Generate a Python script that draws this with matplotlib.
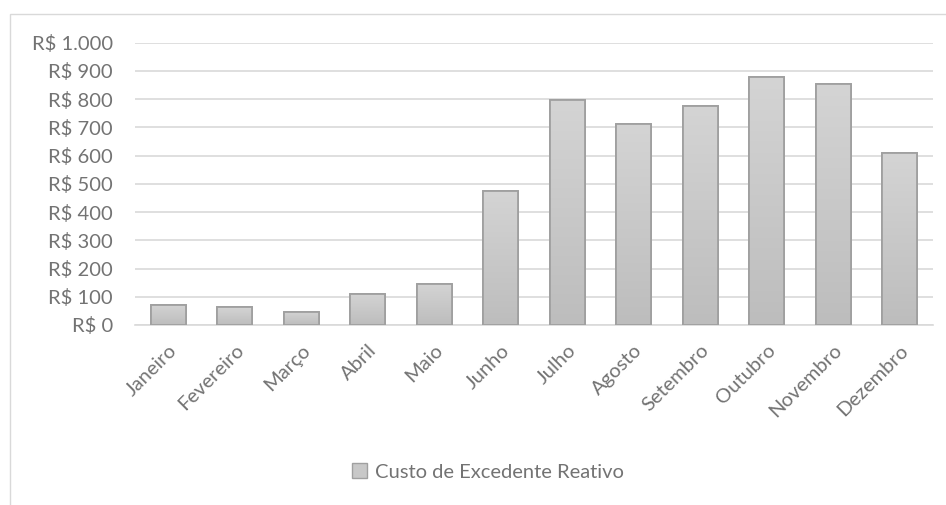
import numpy as np
import matplotlib
matplotlib.use("Agg")
import matplotlib.pyplot as plt
from matplotlib.patches import Rectangle
import matplotlib.ticker as ticker

meses = ['Janeiro', 'Fevereiro', 'Março', 'Abril', 'Maio', 'Junho', 'Julho',
         'Agosto', 'Setembro', 'Outubro', 'Novembro', 'Dezembro']
custo = [71, 63, 47, 110, 146, 476, 797, 711, 776, 880, 853, 608]
serie = 'Custo de Excedente Reativo'

plt.rcParams['font.family'] = ['Lato', 'DejaVu Sans']
cor_texto = '#737373'

fig = plt.figure(figsize=(9.46, 5.05), dpi=100)
W, H = 946, 505
ax = fig.add_axes([135 / W, 1 - 325 / H, 798 / W, (325 - 42.7) / H])

x = np.arange(len(meses))
bars = ax.bar(x, custo, width=0.52, color='#c8c8c8', edgecolor='#a0a0a0',
              linewidth=1.3, zorder=3)

# leve degrade vertical nas barras
grad = np.linspace(0, 1, 100).reshape(-1, 1)
cmap = matplotlib.colors.LinearSegmentedColormap.from_list('g', ['#bdbdbd', '#d4d4d4'])
for b in bars:
    x0, w, h = b.get_x(), b.get_width(), b.get_height()
    im = ax.imshow(grad, extent=[x0, x0 + w, 0, h], origin='lower', cmap=cmap,
                   aspect='auto', zorder=3.5)
    im.set_clip_path(b)
    ax.add_patch(Rectangle((x0, 0), w, h, fill=False, edgecolor='#a0a0a0',
                           linewidth=1.3, zorder=4))

ax.set_xlim(-0.5, len(meses) - 0.5)
ax.set_ylim(0, 1000)
ax.set_yticks(range(0, 1001, 100))
ax.yaxis.set_major_formatter(ticker.FuncFormatter(
    lambda v, p: 'R$ ' + f'{int(v):,}'.replace(',', '.')))
ax.grid(axis='y', color='#d9d9d9', linewidth=1.2, zorder=0)
for s in ['top', 'right', 'left']:
    ax.spines[s].set_visible(False)
ax.spines['bottom'].set_color('#d9d9d9')
ax.spines['bottom'].set_linewidth(1.2)
ax.tick_params(axis='both', length=0, colors=cor_texto, labelsize=14.5)
ax.tick_params(axis='y', pad=16)
ax.set_xticks(x)
ax.set_xticklabels(meses, rotation=45, ha='right', rotation_mode='anchor')
ax.tick_params(axis='x', pad=12)
for lbl in ax.get_xticklabels():
    lbl.set_x(lbl.get_position()[0])

leg = fig.legend([Rectangle((0, 0), 1, 1, facecolor='#c8c8c8', edgecolor='#a0a0a0')],
                 [serie], loc='center', bbox_to_anchor=(488 / W, 1 - 472 / H),
                 frameon=False, fontsize=14.5, handlelength=0.7, handleheight=0.7,
                 handletextpad=0.4)
for t in leg.get_texts():
    t.set_color(cor_texto)

# borda do grafico (parcialmente visivel)
fig.patches.append(Rectangle((10 / W, -0.1), 1.2, 1 - 14 / H + 0.1,
                             transform=fig.transFigure, fill=False,
                             edgecolor='#d9d9d9', linewidth=1))

fig.savefig('out.png', dpi=100)
